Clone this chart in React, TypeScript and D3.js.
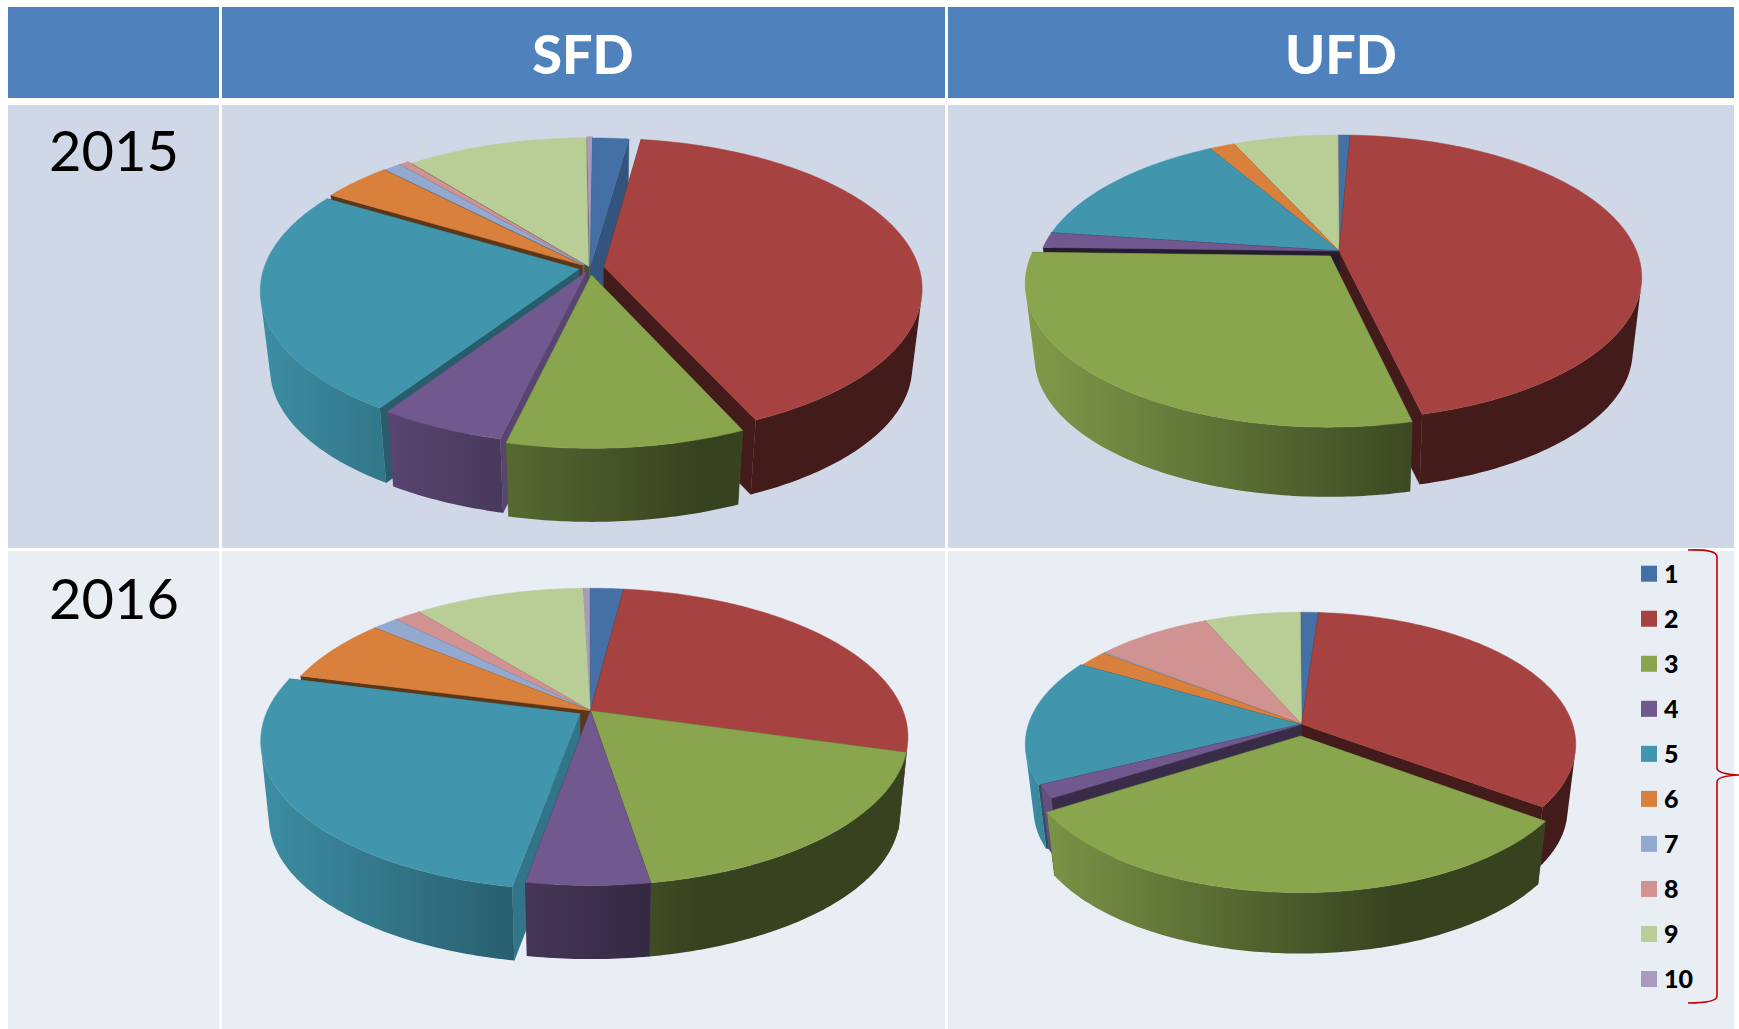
import React from "react";
import * as d3 from "d3";

const sliceLabels = ["1", "2", "3", "4", "5", "6", "7", "8", "9", "10"];
const sliceColors = ["#4470a5", "#a64341", "#89a54e", "#71588f", "#4196ae", "#d8803c", "#93a9cf", "#d19392", "#b9cd96", "#a99bbd"];
const columnTitles = ["SFD", "UFD"];
const rowYears = ["2015", "2016"];

// slice shares in percent
const sfd2015 = [2.1, 40.95, 10.55, 5.6, 24.22, 4.16, 1.0, 0.55, 10.57, 0.3];
const ufd2015 = [0.72, 45.6, 29.1, 1.75, 14.45, 1.6, 0, 0, 6.7, 0.08];
const sfd2016 = [2.0, 27.45, 18.0, 5.3, 26.3, 7.0, 1.6, 1.6, 10.3, 0.45];
const ufd2016 = [1.15, 33.8, 31.2, 1.65, 15.45, 2.0, 0.15, 7.95, 6.55, 0.1];

const pies = [
  { values: sfd2015, ax: 590, ay: 268, W: 315, H: 147, k: 0.14, d: 79, s: 0.97, rot: 0.5,
    explode: [0.01, 0.045, 0.047, 0.03, 0.036, 0.032, 0.03, 0.03, 0.012, 0.02],
    cut: [0.75, 0.41, 0.55, 0.78, 0.62, 0.42, 0.6, 0.6, 0.38, 0.6] },
  { values: ufd2015, ax: 1339, ay: 251, W: 297.5, H: 137.5, k: 0.185, d: 75, s: 0.97, rot: 0,
    explode: [0, 0, 0.046, 0, 0, 0, 0, 0, 0, 0],
    cut: [0.6, 0.41, 0.5, 0.33, 0.6, 0.5, 0.6, 0.6, 0.6, 0.6] },
  { values: sfd2016, ax: 590.4, ay: 710.7, W: 312.6, H: 144, k: 0.176, d: 78, s: 0.975, rot: 0,
    explode: [0, 0, 0, 0, 0.04, 0, 0, 0, 0, 0],
    cut: [0.6, 0.41, 0.5, 0.5, 0.78, 0.42, 0.6, 0.6, 0.6, 0.6] },
  { values: ufd2016, ax: 1301.6, ay: 724.3, W: 271, H: 129, k: 0.151, d: 66, s: 0.97, rot: 0,
    explode: [0, 0, 0.09, 0, 0.008, 0, 0, 0, 0, 0],
    cut: [0.6, 0.41, 0.5, 0.5, 0.6, 0.5, 0.6, 0.6, 0.6, 0.6] },
];

type Pt = [number, number];

const shade = (c: string, f: number) => {
  const r = d3.rgb(c);
  return d3.rgb(r.r * f, r.g * f, r.b * f).formatHex();
};

const lineGen = d3.line<Pt>().curve(d3.curveLinear);

function Pie({ cfg, index }: { cfg: (typeof pies)[number]; index: number }) {
  const { ax, ay, W, H, k, d, s } = cfg;
  const rot = (cfg.rot * Math.PI) / 180;
  const arcs = d3.pie<number>().sort(null).startAngle(rot).endAngle(rot + 2 * Math.PI)(cfg.values);
  const left = ax - W * 1.03;
  const right = ax + W * 1.03;
  const proj = (u: number, v: number): Pt => [ax + (W * u) / (1 - k * v), ay + (H * v) / (1 - k * v)];
  const down = (p: Pt): Pt => [ax + s * (p[0] - ax), ay + s * (p[1] - ay) + d];
  const slices = arcs
    .map((a) => {
      const i = a.index;
      const mid = (a.startAngle + a.endAngle) / 2;
      const e = cfg.explode[i];
      const ex = e * Math.sin(mid);
      const ey = -e * Math.cos(mid);
      const n = Math.max(2, Math.ceil((a.endAngle - a.startAngle) / 0.015));
      const rim = d3.range(n + 1).map((j) => {
        const t = a.startAngle + ((a.endAngle - a.startAngle) * j) / n;
        return proj(ex + Math.sin(t), ey - Math.cos(t));
      });
      return { i, backness: -Math.cos(mid), rim, apex: proj(ex, ey), size: a.endAngle - a.startAngle };
    })
    .filter((x) => x.size > 0)
    .sort((a, b) => a.backness - b.backness);
  return (
    <g>
      <defs>
        {sliceColors.map((c, i) => (
          <linearGradient key={i} id={`w${index}-${i}`} gradientUnits="userSpaceOnUse" x1={left} x2={right} y1={0} y2={0}>
            <stop offset="0" stopColor={shade(c, 0.93)} />
            <stop offset="0.67" stopColor={shade(c, 0.4)} />
            <stop offset="1" stopColor={shade(c, 0.4)} />
          </linearGradient>
        ))}
      </defs>
      {slices.map((sl) => {
        const c = sliceColors[sl.i];
        // the outer wall: only the rim steps that face the viewer, all wound the same way
        const wall = d3
          .pairs(sl.rim)
          .map(([p, q]) => [p, q, down(q), down(p)] as Pt[])
          .filter((quad) => d3.polygonArea(quad) > 0)
          .map((quad) => lineGen(quad) + "Z")
          .join("");
        const first = sl.rim[0];
        const last = sl.rim[sl.rim.length - 1];
        const cutA: Pt[] = [sl.apex, first, down(first), down(sl.apex)];
        const cutB: Pt[] = [sl.apex, last, down(last), down(sl.apex)];
        const cutFill = shade(c, cfg.cut[sl.i]);
        const top = [sl.apex, ...sl.rim];
        return (
          <g key={sl.i}>
            <path d={lineGen(cutA) + "Z"} fill={cutFill} stroke={cutFill} strokeWidth={0.4} />
            <path d={lineGen(cutB) + "Z"} fill={cutFill} stroke={cutFill} strokeWidth={0.4} />
            {wall && <path d={wall} fill={`url(#w${index}-${sl.i})`} />}
            <path d={lineGen(top) + "Z"} fill={c} stroke={c} strokeWidth={0.5} />
          </g>
        );
      })}
    </g>
  );
}

const xLeft = 8;
const colA = 219;
const colB = 222;
const colC = 945;
const colD = 948;
const xRight = 1734;

export default function App() {
  const fontFamily = "Lato, Carlito, Calibri, sans-serif";
  const legendY = d3.scaleLinear().domain([0, 9]).range([573.7, 979]);
  return (
    <svg width={1739} height={1029} viewBox="0 0 1739 1029" style={{ position: "absolute", left: 0, top: 0, display: "block", background: "#fff" }}>
      <rect x={xLeft} y={7} width={colA - xLeft} height={91} fill="#4f81bd" />
      <rect x={colB} y={7} width={colC - colB} height={91} fill="#4f81bd" />
      <rect x={colD} y={7} width={xRight - colD} height={91} fill="#4f81bd" />
      {[
        [105, 443, "#d0d8e8"],
        [551, 478, "#e9edf4"],
      ].map(([y, h, f]) => (
        <g key={String(y)}>
          <rect x={xLeft} y={y as number} width={colA - xLeft} height={h as number} fill={f as string} />
          <rect x={colB} y={y as number} width={colC - colB} height={h as number} fill={f as string} />
          <rect x={colD} y={y as number} width={xRight - colD} height={h as number} fill={f as string} />
        </g>
      ))}
      <text x={583} y={74} textAnchor="middle" fontFamily={fontFamily} fontWeight={900} fontSize={54} fill="#fff">{columnTitles[0]}</text>
      <text x={1341} y={74} textAnchor="middle" fontFamily={fontFamily} fontWeight={900} fontSize={54} fill="#fff">{columnTitles[1]}</text>
      <text x={114} y={171} textAnchor="middle" fontFamily={fontFamily} fontSize={56} fill="#000">{rowYears[0]}</text>
      <text x={114} y={619} textAnchor="middle" fontFamily={fontFamily} fontSize={56} fill="#000">{rowYears[1]}</text>
      {pies.map((p, i) => (
        <Pie key={i} cfg={p} index={i} />
      ))}
      {sliceLabels.map((l, i) => (
        <g key={l}>
          <rect x={1641} y={legendY(i) - 8} width={16} height={16} fill={sliceColors[i]} />
          <text x={1664} y={legendY(i) + 9} fontFamily={fontFamily} fontWeight={900} fontSize={25} fill="#000">{l}</text>
        </g>
      ))}
      <path
        d="M1688,550 Q1717,549 1717,557 L1717,768 Q1717,774 1739,775 Q1717,776 1717,782 L1717,996 Q1717,1003 1688,1003"
        fill="none"
        stroke="#c00000"
        strokeWidth={1.6}
      />
    </svg>
  );
}
